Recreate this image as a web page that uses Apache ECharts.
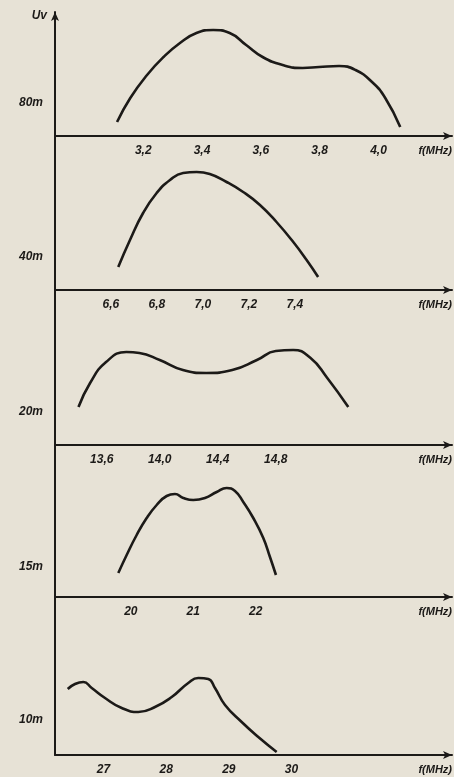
<!DOCTYPE html>
<html><head><meta charset="utf-8">
<script src="https://cdn.jsdelivr.net/npm/echarts@6/dist/echarts.min.js"></script>
<style>html,body{margin:0;padding:0;background:#e7e2d6;}#c{width:454px;height:777px;}</style>
</head><body><div id="c"></div>
<script>
// Band names (y labels)
const bands = ['80m', '40m', '20m', '15m', '10m'];
// Tick labels per band (frequency)
const ticks80 = [3.2, 3.4, 3.6, 3.8, 4.0];
const ticks40 = [6.6, 6.8, 7.0, 7.2, 7.4];
const ticks20 = [13.6, 14.0, 14.4, 14.8];
const ticks15 = [20, 21, 22];
const ticks10 = [27, 28, 29, 30];
// Curves: frequency and relative Uv
const f80 = [3.111, 3.156, 3.213, 3.269, 3.325, 3.381, 3.438, 3.494, 3.550, 3.606, 3.674, 3.742, 3.798, 3.866, 3.922, 3.978, 4.023, 4.074];
const u80 = [14, 38, 61, 79, 93, 103, 106, 103, 91, 79, 71, 68, 69, 70, 66, 54, 38, 9];
const f40 = [6.632, 6.683, 6.740, 6.799, 6.857, 6.914, 6.973, 7.030, 7.103, 7.175, 7.248, 7.320, 7.393, 7.451, 7.501];
const u40 = [23, 50, 77, 97, 110, 117, 118, 116, 108, 98, 85, 68, 48, 30, 13];
const f20 = [13.44, 13.52, 13.63, 13.77, 13.86, 14.0, 14.16, 14.32, 14.5, 14.67, 14.8, 14.92, 15.04, 15.15, 15.3];
const u20 = [38, 62, 83, 93, 92, 85, 75, 72, 75, 85, 94, 95, 87, 68, 38];
const f15 = [19.8, 19.934, 20.094, 20.254, 20.414, 20.574, 20.707, 20.84, 21.0, 21.187, 21.374, 21.534, 21.667, 21.8, 21.96, 22.12, 22.227, 22.323];
const u15 = [24, 42, 62, 79, 92, 101, 103, 99, 97, 99, 105, 109, 106, 95, 79, 59, 40, 22];
const f10 = [26.43, 26.546, 26.679, 26.813, 27.025, 27.291, 27.556, 27.822, 28.089, 28.353, 28.513, 28.672, 28.779, 28.939, 29.205, 29.47, 29.763];
const u10 = [66, 71, 73, 67, 57, 47, 43, 48, 58, 72, 77, 76, 67, 50, 33, 18, 3];
const xName = 'f(MHz)';
const yName = 'Uv';

const panels = [
  {f: f80, u: u80, ticks: ticks80, top: 12, h: 124, min: 2.9, max: 4.25, lab: 33},
  {f: f40, u: u40, ticks: ticks40, top: 136, h: 154, min: 6.357, max: 8.083, lab: 33},
  {f: f20, u: u20, ticks: ticks20, top: 290, h: 155, min: 13.278, max: 16.015, lab: 33},
  {f: f15, u: u15, ticks: ticks15, top: 445, h: 152, min: 18.787, max: 25.14, lab: 30},
  {f: f10, u: u10, ticks: ticks10, top: 597, h: 158, min: 26.227, max: 32.56, lab: 35}
];
const ink = '#1c1a18';
const font = 'Liberation Sans';
const grid = [], xAxis = [], yAxis = [], series = [];
panels.forEach((p, i) => {
  grid.push({left: 55, width: 397, top: p.top, height: p.h});
  xAxis.push({
    type: 'value', gridIndex: i, min: p.min, max: p.max,
    name: xName, nameLocation: 'end', nameGap: 0,
    nameTextStyle: {color: ink, fontFamily: font, fontStyle: 'italic', fontWeight: 'bold', fontSize: 11, align: 'right', verticalAlign: 'top', padding: [9, 0, 0, 0]},
    axisLine: {show: true, symbol: ['none', 'arrow'], symbolSize: [6, 9], lineStyle: {color: ink, width: 2}},
    axisTick: {show: false}, splitLine: {show: false},
    axisLabel: {customValues: p.ticks, color: ink, fontFamily: font, fontStyle: 'italic', fontWeight: 'bold', fontSize: 12, margin: 9,
      formatter: v => p.ticks.every(t => Number.isInteger(t)) ? String(v) : v.toFixed(1).replace('.', ',')}
  });
  yAxis.push({
    type: 'value', gridIndex: i, min: 0, max: p.h,
    name: i === 0 ? yName : '', nameLocation: 'end', nameGap: 0,
    nameTextStyle: {color: ink, fontFamily: font, fontStyle: 'italic', fontWeight: 'bold', fontSize: 12, align: 'right', verticalAlign: 'top', padding: [-2, 8, 0, 0]},
    axisLine: {show: true, symbol: i === 0 ? ['none', 'arrow'] : ['none', 'none'], symbolSize: [6, 9], lineStyle: {color: ink, width: 2}},
    axisTick: {show: false}, splitLine: {show: false},
    axisLabel: {customValues: [p.lab], color: ink, fontFamily: font, fontStyle: 'italic', fontWeight: 'bold', fontSize: 12, margin: 12,
      formatter: () => bands[i]}
  });
  series.push({
    type: 'line', xAxisIndex: i, yAxisIndex: i, smooth: 0.5, showSymbol: false,
    lineStyle: {color: ink, width: 2.6}, data: p.f.map((v, k) => [v, p.u[k]])
  });
});
const chart = echarts.init(document.getElementById('c'), null, {renderer: 'canvas'});
chart.setOption({backgroundColor: '#e7e2d6', animation: false, grid, xAxis, yAxis, series});
</script></body></html>
